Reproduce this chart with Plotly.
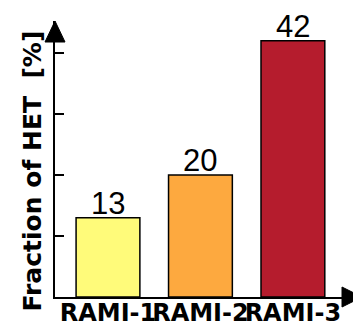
import plotly.graph_objects as go

# Share of HET per RAMI level
categories = ["RAMI-1", "RAMI-2", "RAMI-3"]
het_fraction = [13, 20, 42]
bar_colors = ["#FFFB7A", "#FDA93F", "#B51C2D"]
y_ticks = [10, 20, 30, 40]

W, H = 353, 326
left, right, top, bottom = 55, 0, 21, 29
xs = list(range(len(categories)))

fig = go.Figure(
    go.Bar(
        x=xs,
        y=het_fraction,
        width=0.69,
        marker=dict(color=bar_colors, line=dict(color="black", width=1.5)),
    )
)

# value labels sitting just above each bar
value_labels = [
    dict(
        text=str(v),
        x=xi,
        y=v,
        xref="x",
        yref="y",
        xanchor="center",
        yanchor="bottom",
        yshift=-5,
        showarrow=False,
        font=dict(family="Liberation Sans", size=31, color="black"),
    )
    for xi, v in zip(xs, het_fraction)
]

fig.update_layout(
    width=W,
    height=H,
    margin=dict(l=left, r=right, t=top, b=bottom, pad=0, autoexpand=False),
    paper_bgcolor="white",
    plot_bgcolor="white",
    showlegend=False,
    xaxis=dict(
        range=[-0.573, 2.65],
        tickmode="array",
        tickvals=xs,
        ticktext=categories,
        tickangle=0,
        automargin=False,
        ticks="",
        ticklabelstandoff=-7,
        showline=True,
        linecolor="black",
        linewidth=2,
        showgrid=False,
        zeroline=False,
        tickfont=dict(family="DejaVu Sans", size=24, color="black", weight="bold"),
    ),
    yaxis=dict(
        range=[0, 45.25],
        tickmode="array",
        tickvals=y_ticks,
        ticktext=["" for _ in y_ticks],
        ticks="inside",
        ticklen=9,
        tickwidth=1.5,
        tickcolor="black",
        showline=True,
        linecolor="black",
        linewidth=2,
        showgrid=False,
        zeroline=False,
        automargin=False,
    ),
    annotations=value_labels + [
        dict(
            text="Fraction of HET  [%]",
            textangle=-90,
            xref="paper",
            yref="paper",
            x=-0.077,
            y=0.455,
            xanchor="center",
            yanchor="middle",
            showarrow=False,
            font=dict(family="DejaVu Sans", size=25, color="black", weight="bold"),
        )
    ],
    shapes=[
        # arrowhead on the y axis
        dict(
            type="path",
            xref="paper",
            yref="paper",
            xsizemode="pixel",
            ysizemode="pixel",
            xanchor=0,
            yanchor=1,
            path="M -10 -21 L 10 -21 L 0 0 Z",
            fillcolor="black",
            line=dict(color="black", width=1),
        ),
        # arrowhead on the x axis
        dict(
            type="path",
            xref="paper",
            yref="paper",
            xsizemode="pixel",
            ysizemode="pixel",
            xanchor=1,
            yanchor=0,
            path="M -11 10 L -11 -10 L 9 0 Z",
            fillcolor="black",
            line=dict(color="black", width=1),
        ),
    ],
)

fig.write_html("out.html")
